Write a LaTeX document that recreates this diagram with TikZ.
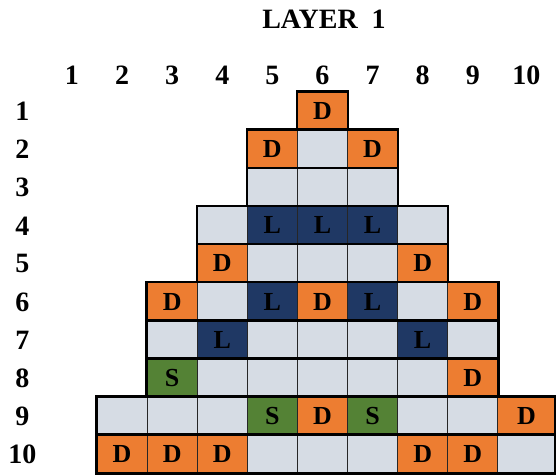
\documentclass[tikz,border=0pt]{standalone}
\usepackage{fontspec}
\setmainfont{Liberation Serif}
\definecolor{dorange}{HTML}{ED7D31}
\definecolor{bgray}{HTML}{D6DCE4}
\definecolor{lnavy}{HTML}{1F3864}
\definecolor{sgreen}{HTML}{548235}
\begin{document}
\begin{tikzpicture}[x=1pt,y=-1pt,
  lbl/.style={font=\bfseries\fontsize{28}{28}\selectfont, inner sep=0pt},
  cellbase/.style={rectangle, inner sep=0pt, minimum height=38.1pt, draw=black!85, line width=0.8pt, font=\bfseries\fontsize{26}{26}\selectfont},
  cellD/.style={cellbase, fill=dorange},
  cellB/.style={cellbase, fill=bgray},
  cellL/.style={cellbase, fill=lnavy},
  cellS/.style={cellbase, fill=sgreen},
  rowframe/.style={draw=black, line width=2.6pt}]
\useasboundingbox (0,0) rectangle (556,475);
\node[lbl] (title) at (324,19.5) {LAYER\ \ 1};
\foreach \c in {1,...,10}{
  \pgfmathsetmacro\xc{\c==10 ? 526.4 : 97+(\c-2)*50.1+25.05}
  \node[lbl] (h\c) at (\xc,75.5) {\c};
}
\foreach \r in {1,...,10}{
  \pgfmathsetmacro\yc{92+(\r-1)*38.1+19.55}
  \node[lbl] (r\r) at (22.5,\yc) {\r};
}
\def\bb{B}
\foreach \r/\f/\l/\cells in {
  1/6/6/{D},
  2/5/7/{D,B,D},
  3/5/7/{B,B,B},
  4/4/8/{B,L,L,L,B},
  5/4/8/{D,B,B,B,D},
  6/3/9/{D,B,L,D,L,B,D},
  7/3/9/{B,L,B,B,B,L,B},
  8/3/9/{S,B,B,B,B,B,D},
  9/2/10/{B,B,B,S,D,S,B,B,D},
  10/2/10/{D,D,D,B,B,B,D,D,B}}{
  \pgfmathsetmacro\yc{92+(\r-1)*38.1+19.05}
  \foreach \t [count=\k] in \cells {
    \pgfmathtruncatemacro\c{\f+\k-1}
    \pgfmathsetmacro\xc{\c==10 ? 526.4 : 97+(\c-2)*50.1+25.05}
    \pgfmathsetmacro\w{\c==10 ? 57.2 : 50.1}
    \node[cell\t, minimum width=\w pt] (c-\r-\c) at (\xc,\yc) {\ifx\t\bb\else\t\fi};
  }
  \draw[rowframe] (c-\r-\f.north west) rectangle (c-\r-\l.south east);
}
\end{tikzpicture}
\end{document}
